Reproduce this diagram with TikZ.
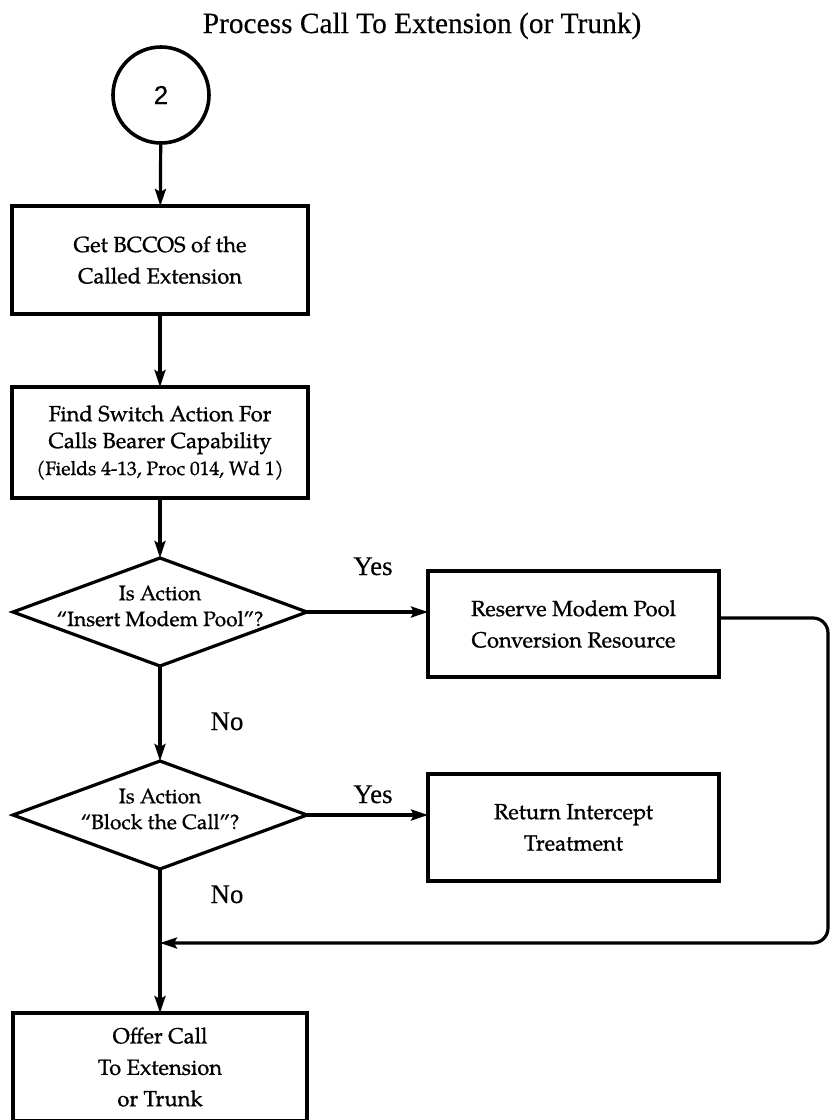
\documentclass[tikz,border=0pt]{standalone}
\usepackage{fontspec}
\setmainfont{Liberation Serif}
\newfontfamily\labelfont[FakeBold=0.4]{Liberation Serif}
\newfontfamily\boxfont[FakeBold=0.9]{TeX Gyre Pagella}
\newfontfamily\digitfont[FakeBold=0.6]{Liberation Sans}
\usetikzlibrary{shapes.geometric,arrows.meta}
\begin{document}
\begin{tikzpicture}[x=1bp,y=-1bp,
  every node/.style={inner sep=0pt, outer sep=0pt},
  stepbox/.style={draw, rectangle, line width=3.2bp, align=center,
    font=\boxfont\fontsize{22}{31.5}\selectfont},
  decision/.style={draw, diamond, line width=3.2bp,
    minimum width=294bp, minimum height=108bp},
  dtext/.style={align=center, font=\boxfont\fontsize{21}{26}\selectfont},
  answer/.style={anchor=base, font=\labelfont\fontsize{27}{30}\selectfont},
  flow/.style={line width=3.2bp, -{Stealth[length=17bp,width=11bp,inset=3bp]}}]

\clip (0,0) rectangle (832,1120);

% heading
\node[anchor=base, font=\labelfont\fontsize{29.5}{32}\selectfont] (title) at (422,33)
  {Process Call To Extension (or Trunk)};

% connector circle
\node[circle, draw, line width=3.6bp, minimum size=96bp,
  font=\digitfont\fontsize{26}{28}\selectfont] (c2) at (161,95) {2};

% main column
\node[stepbox, minimum width=296bp, minimum height=108bp] (b1) at (160,260)
  {Get BCCOS of the\\Called Extension};
\node[stepbox, minimum width=296bp, minimum height=111bp,
  font=\boxfont\fontsize{22}{27}\selectfont] (b2) at (160,442.5)
  {Find Switch Action For\\Calls Bearer Capability\\
   {\fontsize{19.5}{27}\selectfont (Fields 4-13, Proc 014, Wd 1)}};

\node[decision] (d1) at (160,612) {};
\node[dtext] (d1t) at (160,606) {Is Action\\“Insert Modem Pool”?};

\node[decision] (d2) at (160,815) {};
\node[dtext] (d2t) at (160,809) {Is Action\\“Block the Call”?};

\node[stepbox, minimum width=294bp, minimum height=108bp] (b5) at (160,1067)
  {Offer Call\\To Extension\\or Trunk};

% right-hand boxes
\node[stepbox, minimum width=291bp, minimum height=106bp] (b3) at (573.5,624)
  {Reserve Modem Pool\\Conversion Resource};
\node[stepbox, minimum width=291bp, minimum height=107bp] (b4) at (573.5,827.5)
  {Return Intercept\\Treatment};

% branch labels
\node[answer] (y1) at (373,575) {Yes};
\node[answer] (y2) at (373,803) {Yes};
\node[answer] (n1) at (227,730) {No};
\node[answer] (n2) at (227,903) {No};

% return path helpers
\coordinate (j) at (160,943);
\coordinate (rr) at (828,0);

% connectors
\draw[flow] (c2) -- (b1);
\draw[flow] (b1) -- (b2);
\draw[flow] (b2) -- (d1.north);
\draw[flow] (d1.south) -- (d2.north);
\draw[flow] (d2.south) -- (b5.north);
\draw[flow] (d1.east) -- (d1.east -| b3.west);
\draw[flow] (d2.east) -- (d2.east -| b4.west);
\draw[flow, rounded corners=15bp] ([yshift=6bp]b3.east) -- ([yshift=6bp]b3.east -| rr)
  -- (rr |- j) -- (j);

\end{tikzpicture}
\end{document}
